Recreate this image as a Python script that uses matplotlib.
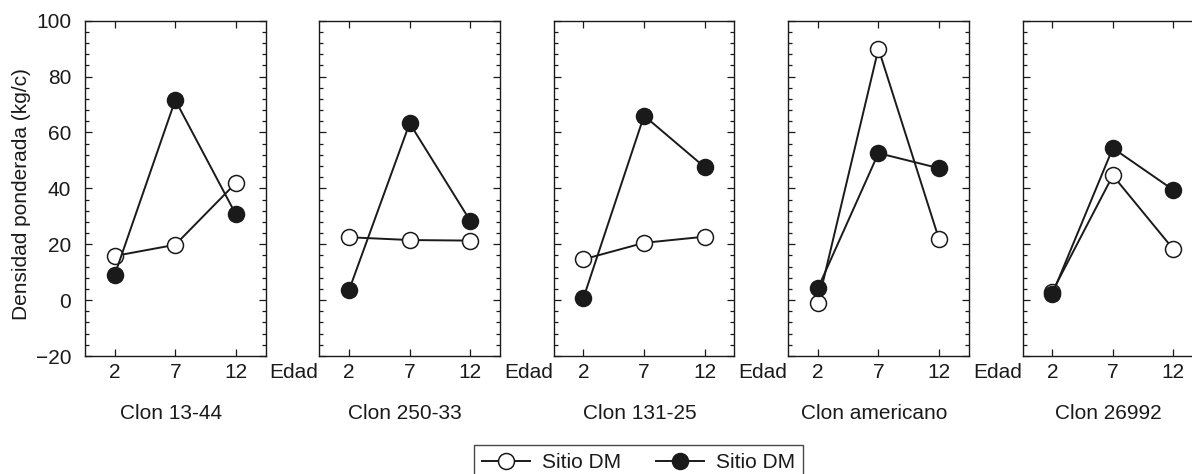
import numpy as np
import matplotlib
matplotlib.use("Agg")
import matplotlib.pyplot as plt
from matplotlib.lines import Line2D
from matplotlib.ticker import MultipleLocator

plt.rcParams['font.family'] = ['Liberation Sans', 'DejaVu Sans']

# ========= DATA =========
edad = [2, 7, 12]
clones = ["Clon 13-44", "Clon 250-33", "Clon 131-25", "Clon americano", "Clon 26992"]
sitio_abierto = [
    [15.8, 19.8, 41.9],
    [22.5, 21.5, 21.3],
    [14.6, 20.5, 22.7],
    [-1.2, 90.0, 21.8],
    [3.0, 44.6, 18.2],
]
sitio_lleno = [
    [9.0, 71.6, 30.7],
    [3.6, 63.3, 28.4],
    [0.8, 66.0, 47.6],
    [4.2, 52.6, 47.2],
    [2.1, 54.4, 39.4],
]
y_ticks = [-20, 0, 20, 40, 60, 80, 100]
y_ticklabels = ["\u221220", "0", "20", "40", "60", "80", "100"]
legend_labels = ["Sitio DM", "Sitio DM"]

# ========= LAYOUT =========
W, H = 1192, 474
fig = plt.figure(figsize=(W / 100, H / 100), dpi=100)
ink = "#1a1a1a"
fs = 15

ax_left0 = 85.0
ax_step = 234.4
ax_w = 180.5
ax_top = 20.7
ax_bot = 356.0

for i, clon in enumerate(clones):
    left = ax_left0 + i * ax_step
    ax = fig.add_axes([left / W, 1 - ax_bot / H, ax_w / W, (ax_bot - ax_top) / H])
    ax.plot(edad, sitio_abierto[i], color=ink, lw=1.4, marker="o", ms=11.5,
            mfc="white", mec=ink, mew=1.1, zorder=3)
    ax.plot(edad, sitio_lleno[i], color=ink, lw=1.4, marker="o", ms=11.5,
            mfc=ink, mec=ink, mew=1.1, zorder=4)
    ax.set_xlim(-0.45, 14.45)
    ax.set_ylim(-20, 100)
    ax.set_xticks(edad)
    ax.set_yticks(y_ticks)
    ax.yaxis.set_minor_locator(MultipleLocator(4))
    ax.tick_params(which="both", direction="in", top=True, right=True,
                   colors=ink, labelcolor=ink, labelsize=fs, width=0.9)
    ax.tick_params(which="major", length=5, pad=5)
    ax.tick_params(which="minor", length=3)
    ax.tick_params(axis="y", pad=10)
    for s in ax.spines.values():
        s.set_color(ink)
        s.set_linewidth(1.0)
    if i > 0:
        ax.set_yticklabels([])
    else:
        ax.set_yticklabels(y_ticklabels)
    ax.text(0.475, -0.17, clon, transform=ax.transAxes, ha="center",
            va="center", fontsize=fs, color=ink)
    if i < len(clones) - 1:
        ax.annotate("Edad", xy=(1, 0), xycoords="axes fraction", xytext=(3, -5),
                    textcoords="offset points", ha="left", va="top",
                    fontsize=fs, color=ink)

fig.text(22 / W, 1 - 194 / H, "Densidad ponderada (kg/c)", rotation=90,
         ha="center", va="center", fontsize=fs, color=ink)

handles = [
    Line2D([], [], color=ink, lw=1.4, marker="o", ms=11.5, mfc="white", mec=ink, mew=1.1),
    Line2D([], [], color=ink, lw=1.4, marker="o", ms=11.5, mfc=ink, mec=ink, mew=1.1),
]
leg = fig.legend(handles, legend_labels, ncol=2, loc="upper center",
                 bbox_to_anchor=(638.5 / W, 1 - 445 / H), frameon=True, fancybox=False,
                 fontsize=fs, handlelength=2.3, columnspacing=1.7,
                 borderaxespad=0, handletextpad=0.55, borderpad=0.4)
leg.get_frame().set_edgecolor(ink)
leg.get_frame().set_linewidth(1.0)
for t in leg.get_texts():
    t.set_color(ink)

fig.savefig("out.png", dpi=100)
